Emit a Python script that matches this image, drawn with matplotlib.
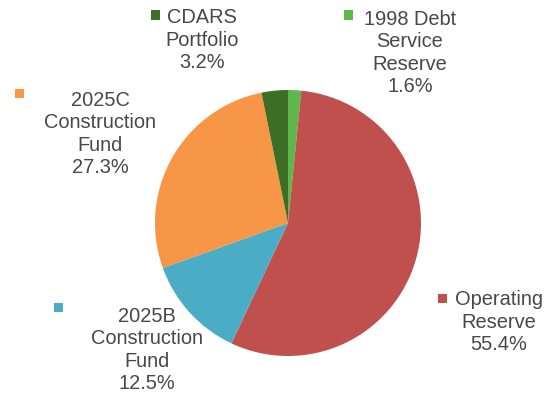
import matplotlib
matplotlib.use("Agg")
import matplotlib.pyplot as plt
from matplotlib.patches import Rectangle

# Portfolio shares, listed clockwise from 12 o'clock
labels = ["1998 Debt\nService\nReserve", "Operating\nReserve", "2025B\nConstruction\nFund",
          "2025C\nConstruction\nFund", "CDARS\nPortfolio"]
shares = [1.6, 55.4, 12.5, 27.3, 3.2]
colors = ["#5fb64a", "#c0504d", "#4bacc6", "#f79646", "#3d6e25"]

# Label block centres, legend-square centres (pixels from top-left)
label_xy = [(410, 53), (499, 322), (147, 350), (100, 134), (202, 40)]
square_xy = [(348, 15), (442, 298), (58, 307), (19, 93), (156, 15)]

W, H = 549, 395
fig = plt.figure(figsize=(W / 100, H / 100), dpi=100)
fig.patch.set_facecolor("white")

cx, cy, r = 288, 223, 133
ax = fig.add_axes([(cx - r) / W, (H - cy - r) / H, 2 * r / W, 2 * r / H])
ax.pie(shares, colors=colors, startangle=90, counterclock=False,
       wedgeprops=dict(linewidth=0))
ax.set_xlim(-1, 1)
ax.set_ylim(-1, 1)
ax.set_aspect("equal")
ax.axis("off")

text_color = "#484848"
sq = 9
for lab, val, col, (tx, ty), (sx, sy) in zip(labels, shares, colors, label_xy, square_xy):
    fig.text(tx / W, 1 - ty / H, f"{lab}\n{val:.1f}%", ha="center", va="center",
             fontsize=14.4, family="Liberation Sans", color=text_color,
             linespacing=1.22)
    fig.patches.append(Rectangle(((sx - sq / 2) / W, 1 - (sy + sq / 2) / H), sq / W, sq / H,
                                 transform=fig.transFigure, facecolor=col, edgecolor="none"))

fig.savefig("out.png", dpi=100, facecolor="white")
